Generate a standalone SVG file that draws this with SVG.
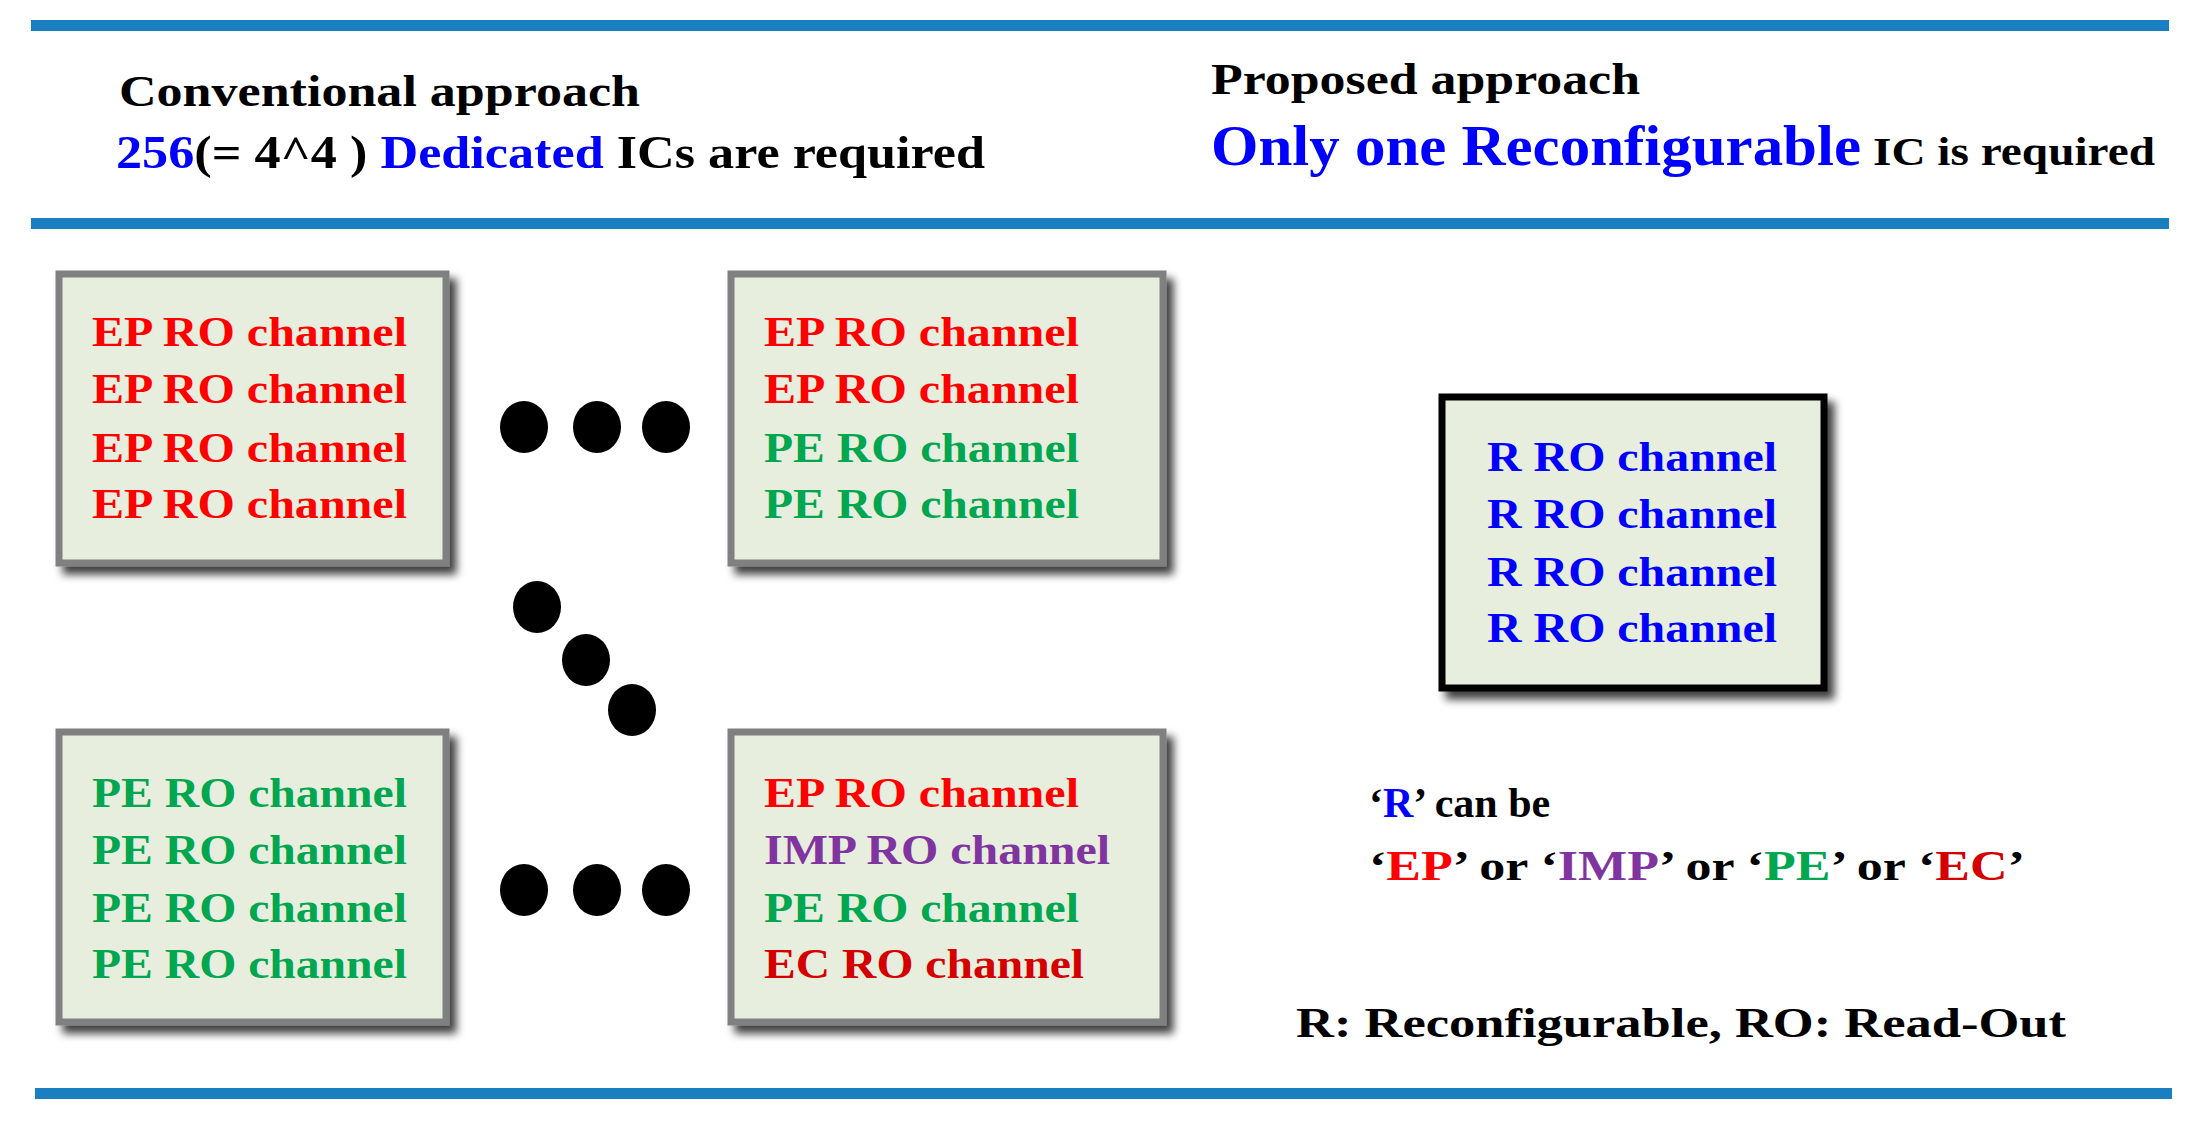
<svg xmlns="http://www.w3.org/2000/svg" width="2197" height="1124" viewBox="0 0 2197 1124">
<defs>
<filter id="sh" x="-10%" y="-10%" width="130%" height="130%"><feDropShadow dx="7" dy="8" stdDeviation="4" flood-color="#000" flood-opacity="0.75"/></filter>
</defs>
<style>
text{font-family:"Liberation Serif","Times New Roman",serif;font-weight:bold}
.bx{fill:#e8eedd;stroke:#808080;stroke-width:7;filter:url(#sh)}
.bk{fill:#e8eedd;stroke:#000;stroke-width:7;filter:url(#sh)}
.ch{font-size:42px}
.r{fill:#ff0000}.g{fill:#00a650}.b{fill:#0000ff}.p{fill:#8034a0}.e{fill:#d40000}
.ln{fill:#1a7fc1}
</style>
<rect width="2197" height="1124" fill="#fff"/>
<rect class="ln" x="31" y="20" width="2138" height="11"/>
<rect class="ln" x="31" y="218" width="2138" height="11"/>
<rect class="ln" x="35" y="1088" width="2137" height="11"/>
<g id="header-left">
<text x="119" y="106" font-size="44" textLength="521" lengthAdjust="spacingAndGlyphs">Conventional approach</text>
<text x="116" y="168" font-size="46" textLength="869" lengthAdjust="spacingAndGlyphs"><tspan class="b">256</tspan>(= 4^4 ) <tspan class="b">Dedicated</tspan> ICs are required</text>
</g>
<g id="header-right">
<text x="1211" y="94" font-size="44" textLength="429" lengthAdjust="spacingAndGlyphs">Proposed approach</text>
<text x="1211" y="165" font-size="58" class="b" textLength="650" lengthAdjust="spacingAndGlyphs">Only one Reconfigurable</text>
<text x="1873" y="165" font-size="40" textLength="282" lengthAdjust="spacingAndGlyphs">IC is required</text>
</g>
<g id="box1"><rect class="bx" x="59" y="274" width="387" height="289"/>
<text class="ch r" x="92" y="346" textLength="315" lengthAdjust="spacingAndGlyphs">EP RO channel</text>
<text class="ch r" x="92" y="403" textLength="315" lengthAdjust="spacingAndGlyphs">EP RO channel</text>
<text class="ch r" x="92" y="462" textLength="315" lengthAdjust="spacingAndGlyphs">EP RO channel</text>
<text class="ch r" x="92" y="518" textLength="315" lengthAdjust="spacingAndGlyphs">EP RO channel</text></g>
<g id="box2"><rect class="bx" x="731" y="274" width="432" height="289"/>
<text class="ch r" x="764" y="346" textLength="315" lengthAdjust="spacingAndGlyphs">EP RO channel</text>
<text class="ch r" x="764" y="403" textLength="315" lengthAdjust="spacingAndGlyphs">EP RO channel</text>
<text class="ch g" x="764" y="462" textLength="315" lengthAdjust="spacingAndGlyphs">PE RO channel</text>
<text class="ch g" x="764" y="518" textLength="315" lengthAdjust="spacingAndGlyphs">PE RO channel</text></g>
<g id="box3"><rect class="bx" x="59" y="732" width="387" height="290"/>
<text class="ch g" x="92" y="807" textLength="315" lengthAdjust="spacingAndGlyphs">PE RO channel</text>
<text class="ch g" x="92" y="864" textLength="315" lengthAdjust="spacingAndGlyphs">PE RO channel</text>
<text class="ch g" x="92" y="922" textLength="315" lengthAdjust="spacingAndGlyphs">PE RO channel</text>
<text class="ch g" x="92" y="978" textLength="315" lengthAdjust="spacingAndGlyphs">PE RO channel</text></g>
<g id="box4"><rect class="bx" x="731" y="732" width="432" height="290"/>
<text class="ch r" x="764" y="807" textLength="315" lengthAdjust="spacingAndGlyphs">EP RO channel</text>
<text class="ch p" x="764" y="864" textLength="346" lengthAdjust="spacingAndGlyphs">IMP RO channel</text>
<text class="ch g" x="764" y="922" textLength="315" lengthAdjust="spacingAndGlyphs">PE RO channel</text>
<text class="ch e" x="764" y="978" textLength="320" lengthAdjust="spacingAndGlyphs">EC RO channel</text></g>
<g id="rbox"><rect class="bk" x="1442" y="397" width="382" height="291"/>
<text class="ch b" x="1487" y="471" textLength="290" lengthAdjust="spacingAndGlyphs">R RO channel</text>
<text class="ch b" x="1487" y="528" textLength="290" lengthAdjust="spacingAndGlyphs">R RO channel</text>
<text class="ch b" x="1487" y="586" textLength="290" lengthAdjust="spacingAndGlyphs">R RO channel</text>
<text class="ch b" x="1487" y="642" textLength="290" lengthAdjust="spacingAndGlyphs">R RO channel</text></g>
<g id="dots" fill="#000">
<ellipse cx="524" cy="427" rx="24" ry="26"/><ellipse cx="597" cy="427" rx="24" ry="26"/><ellipse cx="666" cy="427" rx="24" ry="26"/>
<ellipse cx="524" cy="890" rx="24" ry="26"/><ellipse cx="597" cy="890" rx="24" ry="26"/><ellipse cx="666" cy="890" rx="24" ry="26"/>
<ellipse cx="537" cy="607" rx="24" ry="26"/><ellipse cx="586" cy="660" rx="24" ry="26"/><ellipse cx="632" cy="710" rx="24" ry="26"/>
</g>
<g id="legend">
<text x="1369" y="817" font-size="42">‘<tspan class="b">R</tspan>’ can be</text>
<text x="1369" y="880" font-size="42" textLength="656" lengthAdjust="spacingAndGlyphs">‘<tspan class="r">EP</tspan>’ or ‘<tspan class="p">IMP</tspan>’ or ‘<tspan class="g">PE</tspan>’ or ‘<tspan class="e">EC</tspan>’</text>
<text x="1296" y="1037" font-size="42" textLength="770" lengthAdjust="spacingAndGlyphs">R: Reconfigurable, RO: Read-Out</text>
</g>
</svg>
